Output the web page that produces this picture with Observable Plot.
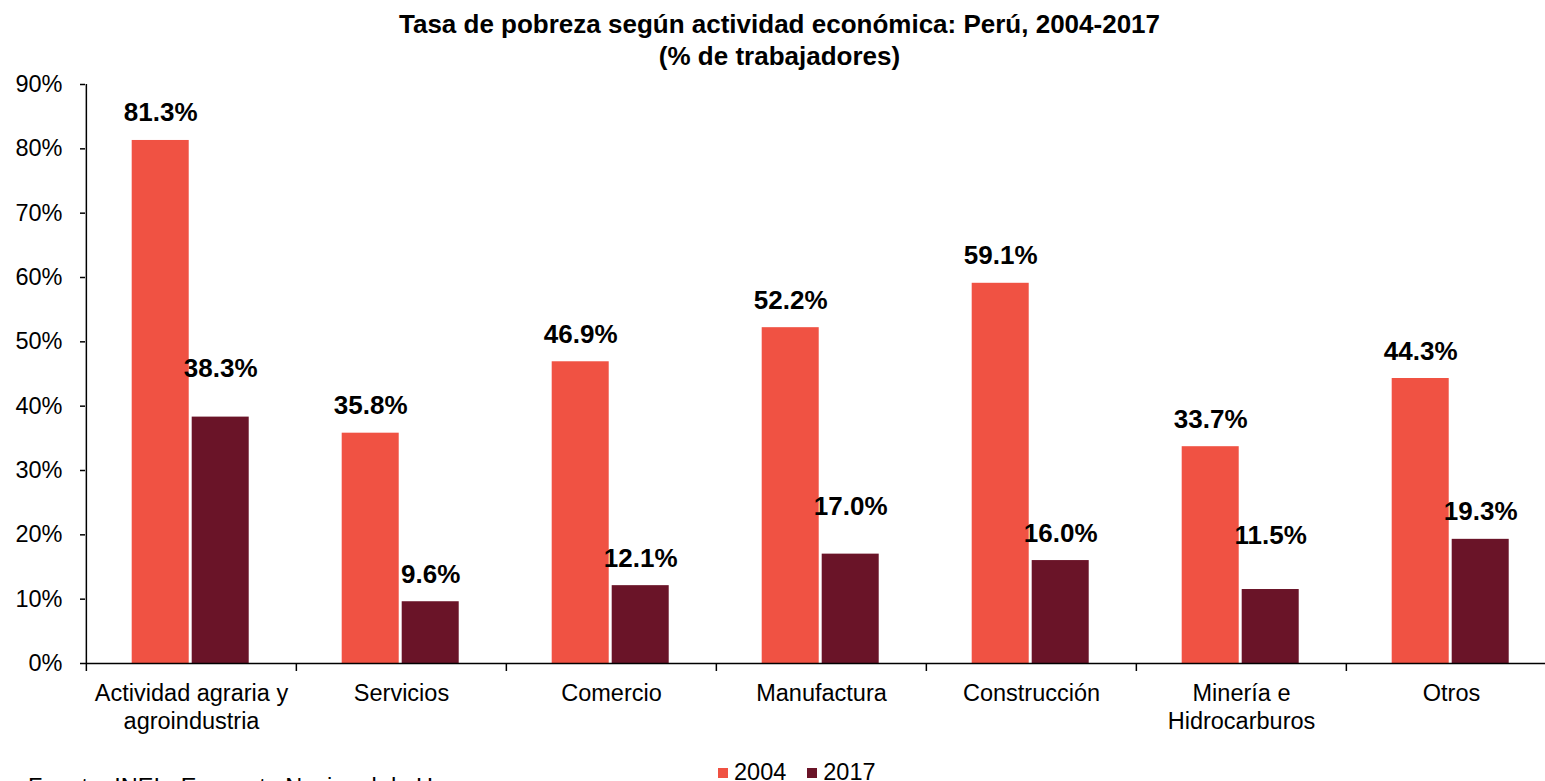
<!DOCTYPE html>
<html>
<head>
<meta charset="utf-8">
<script src="https://cdn.jsdelivr.net/npm/d3@7"></script>
<script src="https://cdn.jsdelivr.net/npm/@observablehq/plot@0.6"></script>
<style>
html, body { margin: 0; padding: 0; width: 1545px; height: 781px; overflow: hidden; background: #fff;
  font-family: "Liberation Sans", Arial, sans-serif; color: #000; }
#frame { position: absolute; left: 0; top: 0; width: 1545px; height: 781px; overflow: hidden; }
#chart { position: absolute; left: 0; top: 0; width: 1545px; height: 781px; overflow: hidden; }
#chart svg { max-width: none !important; width: 1562px; height: 781px; }
#title { position: absolute; left: 14px; top: 8px; width: 1531px; text-align: center; font-weight: bold;
  font-size: 26px; line-height: 32px; }
#legend { position: absolute; left: 718px; top: 760px; font-size: 23.5px; line-height: 24px; white-space: nowrap; }
#legend .sw { display: inline-block; width: 10px; height: 10px; position: relative; top: -2px; margin-right: 6px; }
#legend .item { margin-right: 21px; }
#caption { position: absolute; left: 28px; top: 775px; font-size: 23.5px; line-height: 24px; white-space: nowrap; }
</style>
</head>
<body>
<div id="frame">
<div id="chart"></div>
<div id="title">Tasa de pobreza según actividad económica: Perú, 2004-2017<br>(% de trabajadores)</div>
<div id="legend"></div>
<div id="caption">Fuente: INEI - Encuesta Nacional de Hogares</div>
</div>
<script>
// ---- data ----
const categories = ["Actividad agraria y agroindustria", "Servicios", "Comercio", "Manufactura", "Construcción", "Minería e Hidrocarburos", "Otros"];
const categoryLabels = ["Actividad agraria y\nagroindustria", "Servicios", "Comercio", "Manufactura", "Construcción", "Minería e\nHidrocarburos", "Otros"];
const series = ["2004", "2017"];
const values2004 = [81.3, 35.8, 46.9, 52.2, 59.1, 33.7, 44.3];
const values2017 = [38.3, 9.6, 12.1, 17.0, 16.0, 11.5, 19.3];
const yTicks = [0, 10, 20, 30, 40, 50, 60, 70, 80, 90];

// ---- styling ----
const colors = {"2004": "#F05243", "2017": "#6A1428"};
const W = 1562, H = 781, ML = 85, MR = 5, MT = 84, MB = 118;
const bw = (W - ML - MR) / categories.length;
const pxPerUnit = (H - MT - MB) / 90;
// extra lift (px) of a few 2017 labels, as placed in the original
const lift2017 = {"Actividad agraria y agroindustria": 21, "Manufactura": 20, "Minería e Hidrocarburos": 27};

const rows2004 = categories.map((c, i) => ({cat: c, value: values2004[i], year: series[0]}));
const rows2017 = categories.map((c, i) => ({cat: c, value: values2017[i], year: series[1]}));

const fmt = d => d.value.toFixed(1) + "%";
const labelFont = {fontSize: 26, fontWeight: "bold", fill: "#000", lineAnchor: "middle"};

const liftMarks = [...new Set(Object.values(lift2017))].map(l =>
  Plot.text(rows2017.filter(d => lift2017[d.cat] === l),
    {x: "cat", y: "value", text: fmt, dx: 29.2, dy: -27.3 - l, ...labelFont}));

const chart = Plot.plot({
  width: W, height: H,
  marginLeft: ML, marginRight: MR, marginTop: MT, marginBottom: MB,
  style: {fontFamily: '"Liberation Sans", Arial, sans-serif', color: "#000", background: "transparent", maxWidth: "none"},
  x: {type: "band", domain: categories, padding: 0, axis: null},
  y: {domain: [0, 90], axis: null},
  marks: [
    Plot.barY(rows2004, {x: "cat", y: "value", fill: colors["2004"], insetLeft: 45.7, insetRight: bw - 103}),
    Plot.barY(rows2017, {x: "cat", y: "value", fill: colors["2017"], insetLeft: 105.7, insetRight: bw - 163}),
    Plot.ruleY([0], {stroke: "#000", strokeWidth: 1.5}),
    Plot.ruleX([categories[0]], {x: d => d, dx: -bw / 2, y1: 0, y2: 90, stroke: "#000", strokeWidth: 1.5}),
    Plot.ruleX(categories, {x: d => d, dx: -bw / 2, y1: 0, y2: -8 / pxPerUnit, stroke: "#000", strokeWidth: 1.5}),
    Plot.axisY({ticks: yTicks, tickFormat: d => d + "%", tickSize: 5, tickPadding: 18, fontSize: 23.5, label: null, strokeWidth: 1.5}),
    Plot.axisX({tickSize: 0, tickPadding: 18, fontSize: 23.5, lineHeight: 1.17, label: null,
      tickFormat: d => categoryLabels[categories.indexOf(d)]}),
    Plot.text(rows2004, {x: "cat", y: "value", text: fmt, dx: -30.8, dy: -27.3, ...labelFont}),
    Plot.text(rows2017.filter(d => !(d.cat in lift2017)), {x: "cat", y: "value", text: fmt, dx: 29.2, dy: -27.3, ...labelFont}),
    ...liftMarks
  ]
});
document.getElementById("chart").appendChild(chart);

const legend = document.getElementById("legend");
series.forEach(s => {
  const item = document.createElement("span");
  item.className = "item";
  item.innerHTML = `<span class="sw" style="background:${colors[s]}"></span>${s}`;
  legend.appendChild(item);
});
</script>
</body>
</html>
